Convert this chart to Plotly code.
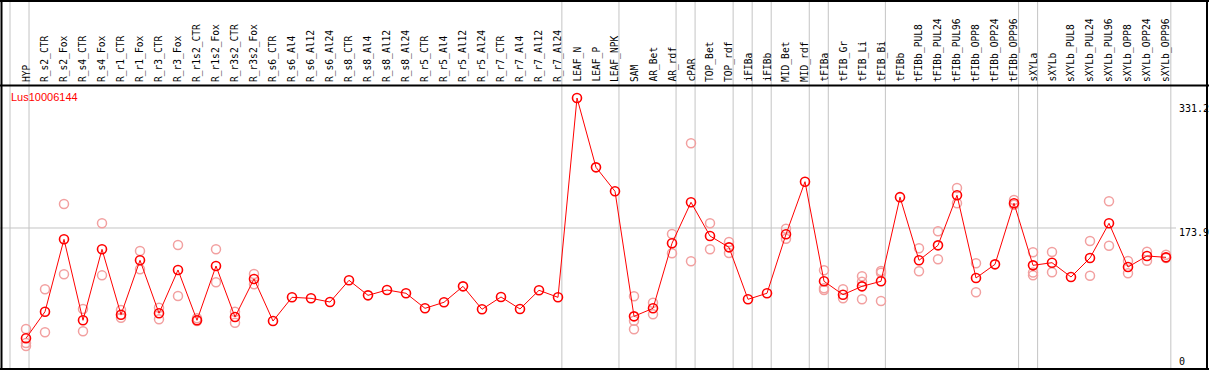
import plotly.graph_objects as go

categories = ["HYP", "R_s2_CTR", "R_s2_Fox", "R_s4_CTR", "R_s4_Fox", "R_r1_CTR", "R_r1_Fox",
              "R_r3_CTR", "R_r3_Fox", "R_r1s2_CTR", "R_r1s2_Fox", "R_r3s2_CTR", "R_r3s2_Fox",
              "R_s6_CTR", "R_s6_Al4", "R_s6_Al12", "R_s6_Al24", "R_s8_CTR", "R_s8_Al4",
              "R_s8_Al12", "R_s8_Al24", "R_r5_CTR", "R_r5_Al4", "R_r5_Al12", "R_r5_Al24",
              "R_r7_CTR", "R_r7_Al4", "R_r7_Al12", "R_r7_Al24", "LEAF_N", "LEAF_P", "LEAF_NPK",
              "SAM", "AR_Bet", "AR_rdf", "cPAR", "TOP_Bet", "TOP_rdf", "iFIBa", "iFIBb",
              "MID_Bet", "MID_rdf", "tFIBa", "tFIB_Gr", "tFIB_Li", "tFIB_Bi", "tFIBb",
              "tFIBb_PUL8", "tFIBb_PUL24", "tFIBb_PUL96", "tFIBb_OPP8", "tFIBb_OPP24",
              "tFIBb_OPP96", "sXYLa", "sXYLb", "sXYLb_PUL8", "sXYLb_PUL24", "sXYLb_PUL96",
              "sXYLb_OPP8", "sXYLb_OPP24", "sXYLb_OPP96"]

mean_values = [40.4, 72.6, 160.2, 62.2, 148.1, 69.0, 134.8, 70.7, 123.1, 62.2, 127.9, 66.2, 112.2,
               61.3, 90.0, 88.8, 84.3, 110.6, 92.4, 98.9, 94.9, 76.7, 84.0, 103.3, 75.5,
               90.4, 75.9, 98.5, 90.0, 331.2, 247.3, 218.3,
               67.0, 76.7, 155.4, 205.0, 164.2, 150.5, 87.6, 94.9,
               166.3, 229.9, 109.4, 93.2, 103.3, 109.4, 211.2,
               134.8, 152.9, 213.5, 113.4, 129.9, 203.8,
               128.7, 131.9, 114.6, 137.6, 179.6, 126.7, 140.0, 138.4]

replicate_values = [
    [51.7, 34.6, 31.1], [99.7, 47.7], [202.9, 117.9], [75.9, 48.9], [179.6, 116.6],
    [74.7, 65.3], [146.1, 123.9], [77.4, 63.4], [153.3, 91.6], [64.6, 61.3],
    [148.1, 108.2], [72.6, 59.3], [118.2, 105.8],
    [], [], [], [], [], [], [], [], [], [], [], [], [], [], [], [],
    [], [], [],
    [91.2, 61.7, 51.3], [83.5, 69.5], [166.6, 143.3], [276.4, 133.6], [179.6, 148.1],
    [156.9, 143.6], [], [],
    [173.0, 160.9], [], [122.7, 100.9, 98.9], [99.7, 88.8], [115.4, 108.9, 87.6],
    [121.9, 119.8, 85.5], [],
    [149.3, 121.5], [169.9, 136.0], [222.3, 203.8], [131.2, 96.1], [], [207.8, 202.1],
    [144.5, 119.9, 116.6], [144.8, 120.3], [], [158.2, 116.2], [206.2, 152.4],
    [134.0, 119.1], [145.2, 134.3], [141.6, 137.6],
]

group_boundaries = [0, 1, 29, 32, 35, 36, 38, 39, 40, 42, 43, 46, 53, 54, 61]
gene_name = "Lus10006144"
max_label, mid_label, min_label = "331.2", "173.9", "0"
mid_value = 173.9

W, H = 1209, 370
PX0, PXSTEP = 26.0, 19.0          # pixel position of first point, spacing
Y_BOTTOM_PX, PX_PER_UNIT = 371.7, 0.8264


def px_to_x(px):
    return (px - PX0) / PXSTEP


def py_to_paper(py):
    return (H - py) / H


x_idx = list(range(len(categories)))

rep_x, rep_y = [], []
for i, reps in enumerate(replicate_values):
    for v in reps:
        rep_x.append(i)
        rep_y.append(v)

fig = go.Figure()
fig.add_trace(go.Scatter(
    x=rep_x, y=rep_y, mode="markers",
    marker=dict(symbol="circle-open", size=9, color="#f2a0a0", line=dict(width=1.5, color="#f2a0a0")),
    hoverinfo="skip", showlegend=False))
fig.add_trace(go.Scatter(
    x=x_idx, y=mean_values, mode="lines+markers",
    line=dict(color="#ff0000", width=1),
    marker=dict(symbol="circle-open", size=9, color="#ff0000", line=dict(width=1.6, color="#ff0000")),
    text=categories, showlegend=False))

shapes = []
for k in group_boundaries:
    xb = px_to_x(10 + 19.03 * k)
    shapes.append(dict(type="line", xref="x", yref="paper", x0=xb, x1=xb, y0=0, y1=1,
                       line=dict(color="#c4c4c4", width=1), layer="below"))
shapes.append(dict(type="line", xref="paper", yref="y", x0=0, x1=1176 / W, y0=mid_value, y1=mid_value,
                   line=dict(color="#c4c4c4", width=1), layer="below"))
# borders
blk = dict(color="#000000", width=2)
shapes += [
    dict(type="line", xref="paper", yref="paper", x0=0, x1=1, y0=py_to_paper(85.5), y1=py_to_paper(85.5), line=blk),
    dict(type="line", xref="paper", yref="paper", x0=1.5 / W, x1=1.5 / W, y0=0, y1=1, line=blk),
    dict(type="line", xref="paper", yref="paper", x0=1207 / W, x1=1207 / W, y0=0, y1=1, line=blk),
    dict(type="line", xref="paper", yref="paper", x0=0, x1=1, y0=py_to_paper(1), y1=py_to_paper(1), line=blk),
    dict(type="line", xref="paper", yref="paper", x0=0, x1=1, y0=py_to_paper(369), y1=py_to_paper(369), line=blk),
]

annotations = []
for i, c in enumerate(categories):
    annotations.append(dict(x=i, y=py_to_paper(83), xref="x", yref="paper", text=c, textangle=-90,
                            showarrow=False, xanchor="center", yanchor="bottom", borderpad=0,
                            font=dict(family="DejaVu Sans Mono", size=9.6, color="#000000")))
annotations.append(dict(x=10 / W, y=py_to_paper(97), xref="paper", yref="paper", text=gene_name,
                        showarrow=False, xanchor="left", yanchor="middle", borderpad=0,
                        font=dict(family="Liberation Sans", size=11, color="#ff0000")))
for txt, py in [(max_label, 108), (mid_label, 232), (min_label, 361.5)]:
    annotations.append(dict(x=1178 / W, y=py_to_paper(py), xref="paper", yref="paper", text=txt,
                            showarrow=False, xanchor="left", yanchor="middle", borderpad=0,
                            font=dict(family="DejaVu Sans Mono", size=10, color="#000000")))

y_top = Y_BOTTOM_PX / PX_PER_UNIT
y_bot = (Y_BOTTOM_PX - H) / PX_PER_UNIT

fig.update_layout(
    width=W, height=H, margin=dict(l=0, r=0, t=0, b=0),
    paper_bgcolor="#ffffff", plot_bgcolor="#ffffff",
    xaxis=dict(range=[px_to_x(0), px_to_x(W)], visible=False, showgrid=False, zeroline=False),
    yaxis=dict(range=[y_bot, y_top], visible=False, showgrid=False, zeroline=False),
    shapes=shapes, annotations=annotations, showlegend=False,
)

fig.write_html("out.html", config={"displayModeBar": False},
               post_script="document.body.style.margin='0';document.body.style.overflow='hidden';")
